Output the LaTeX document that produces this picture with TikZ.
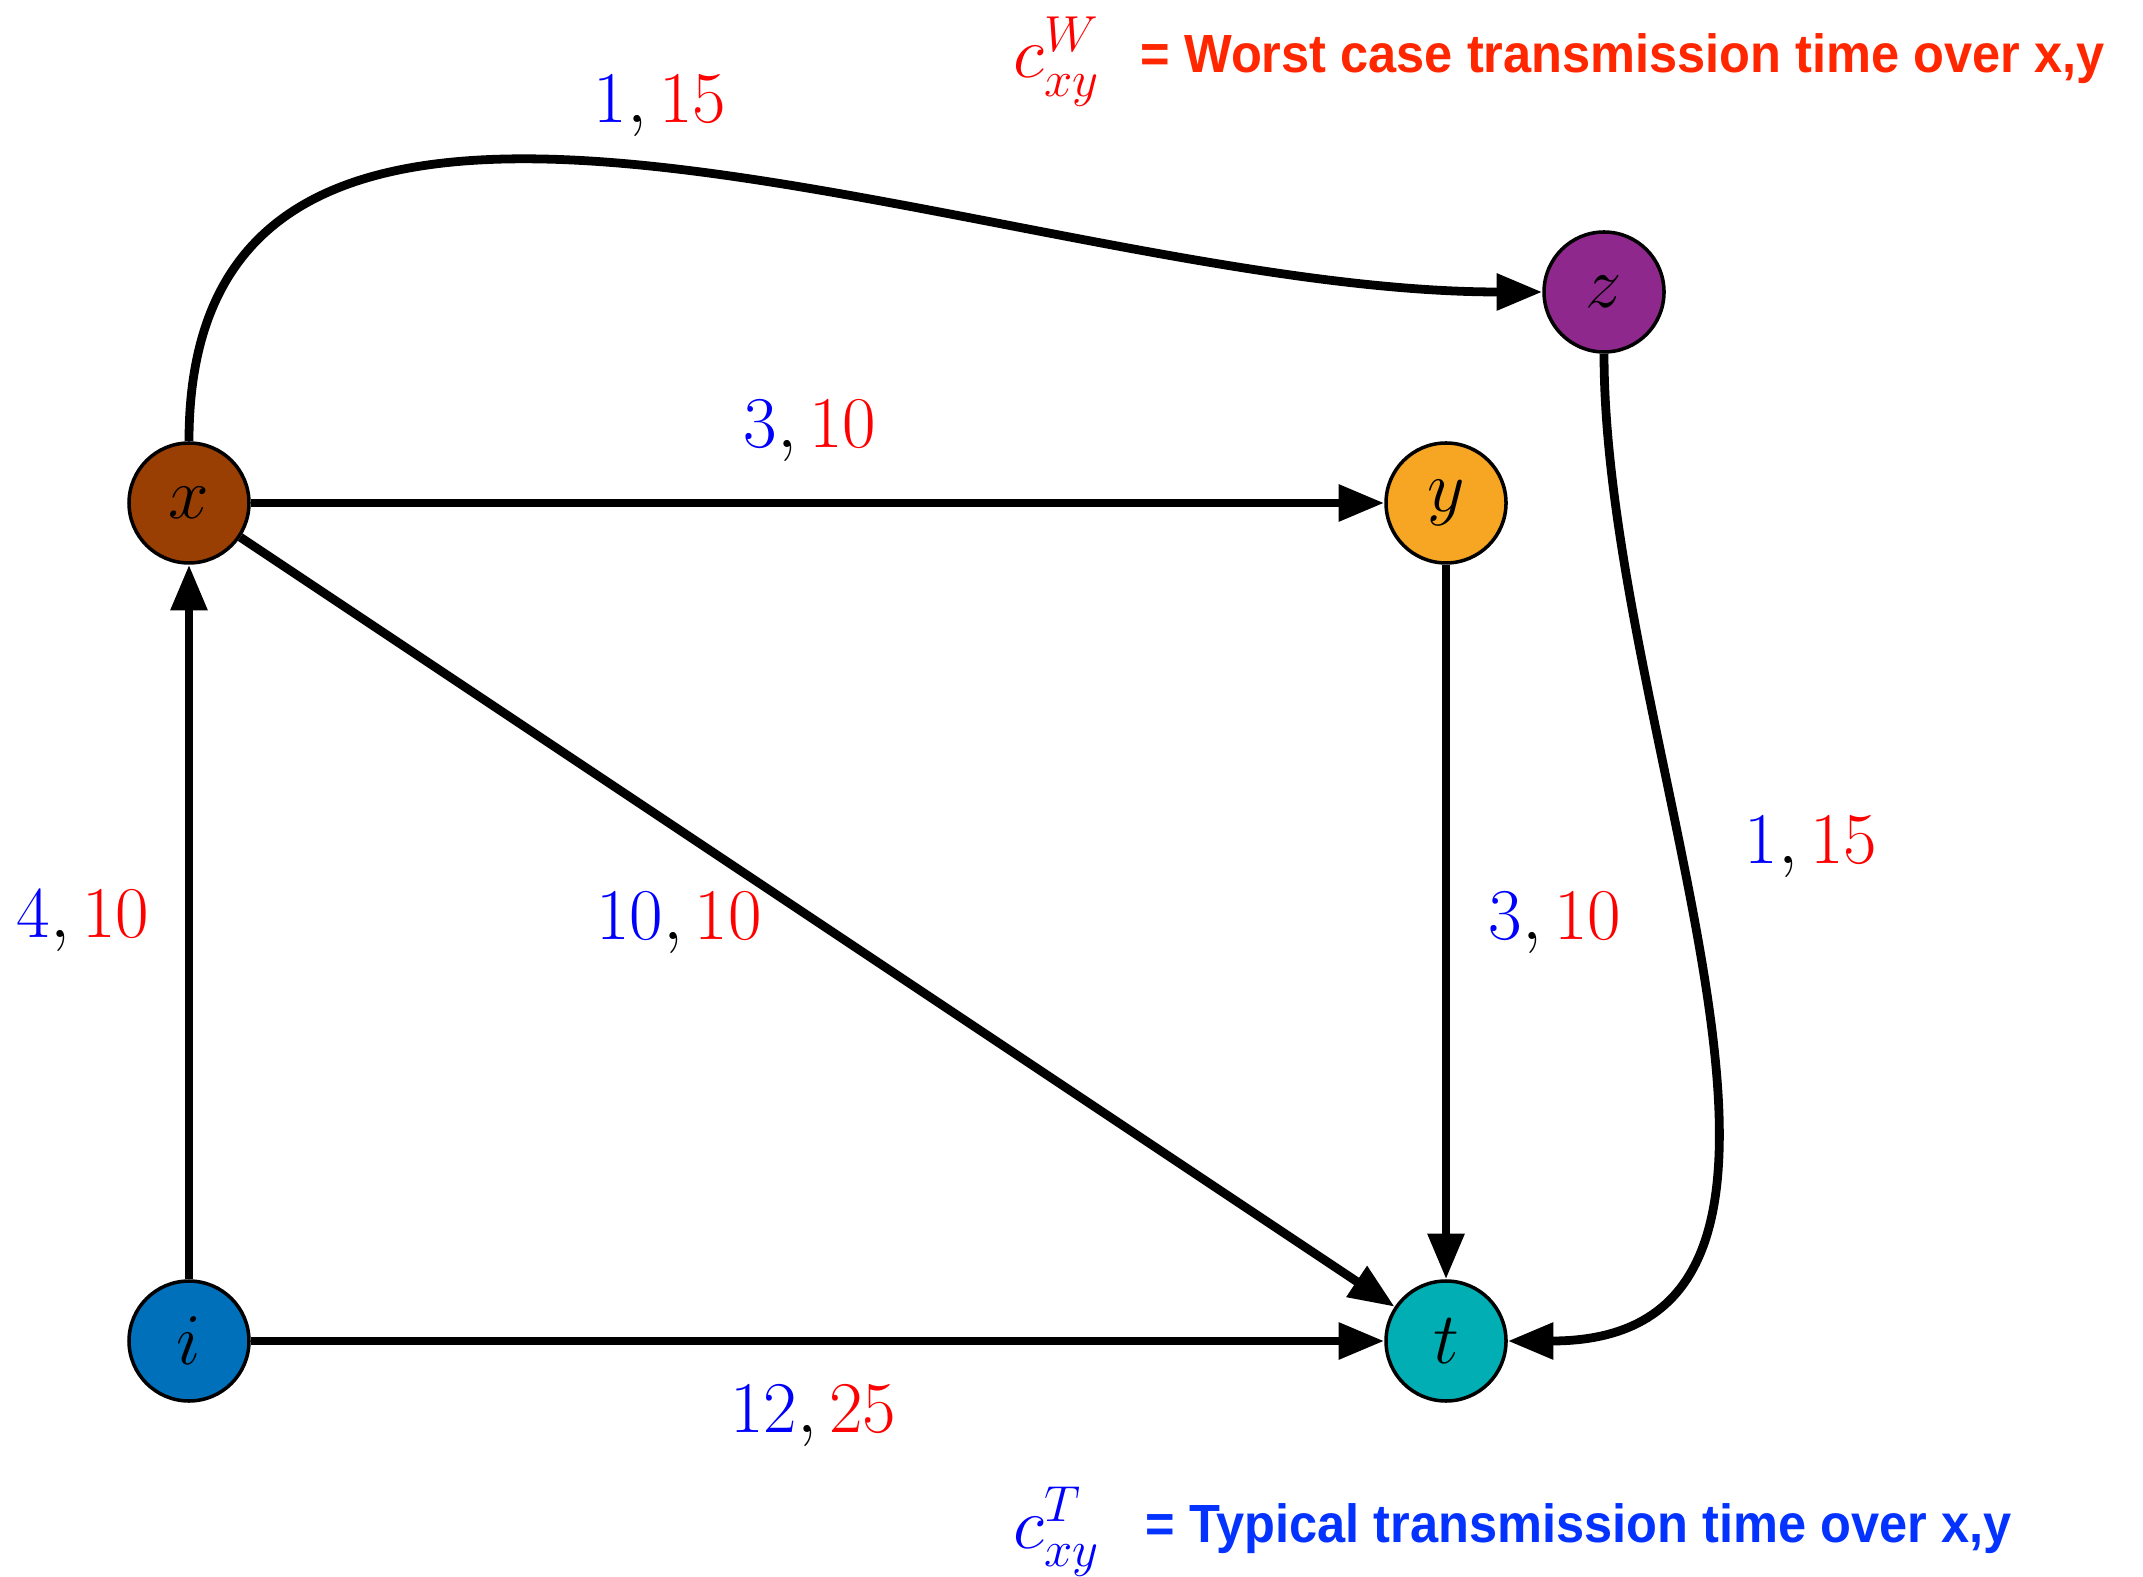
\documentclass[tikz,border=0pt]{standalone}
\usepackage{amsmath,amssymb}
\usepackage{fontspec}
\usetikzlibrary{arrows.meta,positioning}
\newfontfamily\legendfont[FakeStretch=0.94]{Liberation Sans}
\definecolor{cnodei}{RGB}{0,112,186}
\definecolor{cnodex}{RGB}{153,63,3}
\definecolor{cnodey}{RGB}{246,166,35}
\definecolor{cnodez}{RGB}{142,40,140}
\definecolor{cnodet}{RGB}{0,174,179}
\definecolor{ctypical}{RGB}{4,51,255}
\definecolor{cworst}{RGB}{255,38,0}
\newcommand{\tcost}[1]{\textcolor{blue}{#1}}
\newcommand{\wcost}[1]{\textcolor{red}{#1}}

\begin{document}
\begin{tikzpicture}[
    vertex/.style={circle, draw=black, line width=1pt, minimum size=1.2cm, inner sep=0pt, font=\fontsize{21}{25}\selectfont},
    flow/.style={line width=2.5pt, -{Triangle[length=13pt,width=10pt]}},
    cost/.style={anchor=base, inner sep=0pt, font=\fontsize{21}{25}\selectfont},
    keymath/.style={anchor=base west, inner sep=0pt, font=\fontsize{21}{25}\selectfont},
    keytext/.style={anchor=base west, inner sep=0pt, font=\legendfont\bfseries\fontsize{15.3}{18}\selectfont}
  ]
  \useasboundingbox (0,0) rectangle (21.43,15.76);
  % --- the five nodes
  \node[vertex, fill=cnodei] (i) at (1.89,2.35) {$i$};
  \node[vertex, fill=cnodet] (t) at (14.46,2.35) {$t$};
  \node[vertex, fill=cnodex] (x) at (1.89,10.73) {$x$};
  \node[vertex, fill=cnodey] (y) at (14.46,10.73) {$y$};
  \node[vertex, fill=cnodez] (z) at (16.04,12.84) {$z$};
  % --- links
  \draw[flow] (i) -- (x);
  \draw[flow] (x) -- (y);
  \draw[flow] (x) -- (t);
  \draw[flow] (y) -- (t);
  \draw[flow] (i) -- (t);
  \draw[flow] (x.north) to[out=90, in=180] (z.west);
  \draw[flow] (z.south) to[out=-90, in=0] (t.east);
  % --- typical, worst case costs
  \node[cost] (cxz) at (6.60,14.53) {$\tcost{1},\wcost{15}$};
  \node[cost] (cxy) at (8.10,11.28) {$\tcost{3},\wcost{10}$};
  \node[cost] (cix) at (0.83,6.38) {$\tcost{4},\wcost{10}$};
  \node[cost] (cxt) at (6.79,6.36) {$\tcost{10},\wcost{10}$};
  \node[cost] (cyt) at (15.55,6.36) {$\tcost{3},\wcost{10}$};
  \node[cost] (czt) at (18.11,7.12) {$\tcost{1},\wcost{15}$};
  \node[cost] (cit) at (8.13,1.44) {$\tcost{12},\wcost{25}$};
  % --- legend
  \node[keymath, text=red] (keyW) at (10.13,14.98) {$c^{W}_{xy}$};
  \node[keytext, text=cworst] (keyWtext) at (11.40,15.03) {= Worst case transmission time over x,y};
  \node[keymath, text=blue] (keyT) at (10.13,0.28) {$c^{T}_{xy}$};
  \node[keytext, text=ctypical] (keyTtext) at (11.45,0.34) {= Typical transmission time over x,y};
\end{tikzpicture}
\end{document}
